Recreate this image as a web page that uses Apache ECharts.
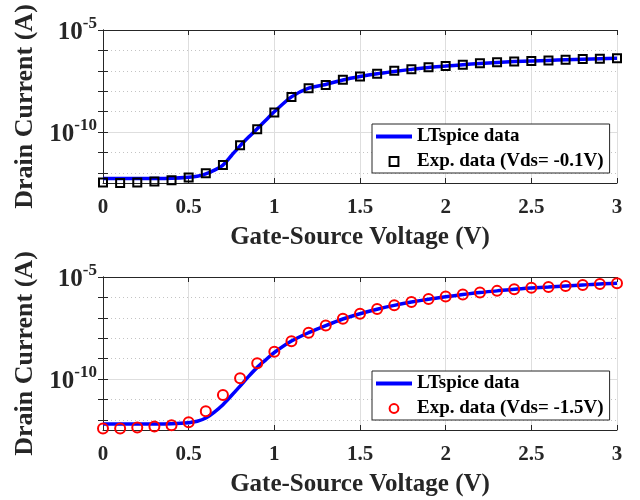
<!DOCTYPE html>
<html>
<head>
<meta charset="utf-8">
<title>Id-Vgs</title>
<script src="https://cdn.jsdelivr.net/npm/echarts@6/dist/echarts.min.js"></script>
<style>
    html, body { margin: 0; padding: 0; background: #fff; }
    #main { width: 640px; height: 500px; }
</style>
</head>
<body>
<div id="main"></div>
<script>
/*-----------------------------------------------------------------------------
 数据：电流都存成 log10(Id)，单位 A
-----------------------------------------------------------------------------*/
const vgs = [0, 0.1, 0.2, 0.3, 0.4, 0.5, 0.6, 0.7, 0.8, 0.9, 1.0, 1.1, 1.2, 1.3, 1.4, 1.5,
    1.6, 1.7, 1.8, 1.9, 2.0, 2.1, 2.2, 2.3, 2.4, 2.5, 2.6, 2.7, 2.8, 2.9, 3.0];
const expTop = [-12.47, -12.5, -12.47, -12.43, -12.37, -12.23, -12.02, -11.62, -10.65, -9.87, -9.05,
    -8.28, -7.85, -7.69, -7.44, -7.28, -7.14, -7.0, -6.93, -6.83, -6.76, -6.70, -6.63, -6.58, -6.55,
    -6.52, -6.49, -6.46, -6.42, -6.41, -6.38];
const expBottom = [-12.43, -12.43, -12.38, -12.33, -12.27, -12.12, -11.58, -10.78, -9.96, -9.23, -8.66,
    -8.15, -7.73, -7.38, -7.05, -6.80, -6.57, -6.39, -6.23, -6.08, -5.96, -5.86, -5.76, -5.68, -5.60,
    -5.53, -5.49, -5.44, -5.39, -5.34, -5.31];

const simX = [0, 0.1, 0.2, 0.3, 0.4, 0.5, 0.55, 0.6, 0.65, 0.7, 0.75, 0.8, 0.85, 0.9, 0.95, 1.0,
    1.1, 1.2, 1.3, 1.4, 1.5, 1.6, 1.7, 1.8, 1.9, 2.0, 2.1, 2.2, 2.3, 2.4, 2.5, 2.6, 2.7, 2.8, 2.9, 3.0];
const simTop = [-12.28, -12.28, -12.28, -12.28, -12.27, -12.22, -12.17, -12.05, -11.87, -11.62, -11.15,
    -10.68, -10.25, -9.84, -9.42, -9.01, -8.28, -7.85, -7.67, -7.45, -7.28, -7.14, -7.03, -6.93, -6.84,
    -6.77, -6.70, -6.64, -6.59, -6.55, -6.52, -6.49, -6.46, -6.43, -6.41, -6.39];
const simBottom = [-12.2, -12.2, -12.2, -12.2, -12.19, -12.14, -12.07, -11.91, -11.62, -11.26, -10.81,
    -10.35, -9.87, -9.43, -9.06, -8.70, -8.14, -7.73, -7.38, -7.06, -6.80, -6.58, -6.39, -6.23, -6.09,
    -5.97, -5.86, -5.76, -5.68, -5.60, -5.54, -5.49, -5.44, -5.39, -5.34, -5.31];

const yLabelTicks = [-10, -5];
const yDecadeTicks = [-12, -11, -10, -9, -8, -7, -6, -5];
const legendSim = 'LTspice data';
const legendTop = 'Exp. data (Vds= -0.1V)';
const legendBottom = 'Exp. data (Vds= -1.5V)';

/*-----------------------------------------------------------------------------
 样式
-----------------------------------------------------------------------------*/
const FONT = '"Liberation Serif", "Times New Roman", serif';
const AX = '#262626';
const grids = [
    { left: 103, top: 30, width: 514, height: 153 },
    { left: 103, top: 277, width: 514, height: 153 }
];

function pairs(xs, ys) {
    return xs.map((x, i) => [x, ys[i]]);
}

function xAxes(gi) {
    return [{
        gridIndex: gi, type: 'value', min: 0, max: 3, interval: 0.5,
        name: 'Gate-Source Voltage (V)', nameLocation: 'middle', nameGap: 42,
        nameTextStyle: { fontFamily: FONT, fontWeight: 'bold', fontSize: 25, color: AX },
        axisLine: { show: true, lineStyle: { color: AX, width: 1 } },
        axisTick: { show: true, inside: true, length: 5, lineStyle: { color: AX } },
        axisLabel: { margin: 14, fontFamily: FONT, fontWeight: 'bold', fontSize: 21, color: AX },
        splitLine: { show: true, lineStyle: { color: '#dedede', width: 1 } }
    }, {
        gridIndex: gi, type: 'value', position: 'top', min: 0, max: 3, interval: 0.5,
        axisLine: { show: true, lineStyle: { color: AX, width: 1 } },
        axisTick: { show: true, inside: true, length: 5, lineStyle: { color: AX } },
        axisLabel: { show: false },
        splitLine: { show: false }
    }];
}

function yAxes(gi) {
    return [{
        gridIndex: gi, type: 'value', min: -12.5, max: -5,
        name: 'Drain Current (A)', nameLocation: 'middle', nameGap: 54, nameRotate: 90,
        nameTextStyle: { fontFamily: FONT, fontWeight: 'bold', fontSize: 26, color: AX },
        axisLine: { show: true, lineStyle: { color: AX, width: 1 } },
        axisTick: { show: true, inside: true, length: 5, customValues: yDecadeTicks, lineStyle: { color: AX } },
        axisLabel: {
            margin: 6, customValues: yLabelTicks,
            formatter: v => '{b|10}{s|' + v + '}',
            rich: {
                b: { fontFamily: FONT, fontWeight: 'bold', fontSize: 25, color: AX, verticalAlign: 'bottom', lineHeight: 30 },
                s: { fontFamily: FONT, fontWeight: 'bold', fontSize: 17, color: AX, verticalAlign: 'top', lineHeight: 30 }
            }
        },
        splitLine: { show: true, lineStyle: { color: '#c4c4c4', width: 1, type: [1, 3] } }
    }, {
        gridIndex: gi, type: 'value', position: 'right', min: -12.5, max: -5,
        axisLine: { show: true, lineStyle: { color: AX, width: 1 } },
        axisTick: { show: true, inside: true, length: 5, customValues: yDecadeTicks, lineStyle: { color: AX } },
        axisLabel: { show: false },
        splitLine: { show: false }
    }, {
        // 10^-10 处的实线网格
        gridIndex: gi, type: 'value', position: 'left', min: -12.5, max: -5,
        axisLine: { show: false },
        axisTick: { show: false, customValues: [-10] },
        axisLabel: { show: false },
        splitLine: { show: true, lineStyle: { color: '#dedede', width: 1 } }
    }];
}

function legendOf(gi, expName) {
    return {
        orient: 'vertical',
        left: 372, top: gi === 0 ? 124 : 371,
        data: [{ name: legendSim, itemStyle: { opacity: 0 }, lineStyle: { width: 4 } }, expName],
        backgroundColor: '#fff',
        borderColor: AX, borderWidth: 1, borderRadius: 0,
        padding: [2, 6, 1, 2],
        itemGap: 4, itemWidth: 36, itemHeight: 11,
        selectedMode: false,
        textStyle: { fontFamily: FONT, fontWeight: 'bold', fontSize: 19, color: '#000', lineHeight: 21 }
    };
}

function simSeries(gi, ys) {
    return {
        name: legendSim, type: 'line', xAxisIndex: gi * 2, yAxisIndex: gi * 3,
        data: pairs(simX, ys), smooth: 0.3, symbol: 'none', z: 2,
        lineStyle: { color: '#0000ff', width: 3.5 },
        itemStyle: { color: '#0000ff', opacity: 0 }
    };
}

function expSeries(gi, name, ys, sym, size, col) {
    return {
        name: name, type: 'line', xAxisIndex: gi * 2, yAxisIndex: gi * 3,
        data: pairs(vgs, ys), symbol: sym, symbolSize: size, showAllSymbol: true, z: 3,
        lineStyle: { width: 0, opacity: 0 },
        itemStyle: { color: 'rgba(255,255,255,0)', borderColor: col, borderWidth: 2 }
    };
}

let myChart = echarts.init(document.getElementById('main'), null, { renderer: 'canvas' });
let option = {
    animation: false,
    backgroundColor: '#fff',
    grid: grids,
    legend: [legendOf(0, legendTop), legendOf(1, legendBottom)],
    xAxis: xAxes(0).concat(xAxes(1)),
    yAxis: yAxes(0).concat(yAxes(1)),
    series: [
        simSeries(0, simTop),
        expSeries(0, legendTop, expTop, 'rect', 8, '#000'),
        simSeries(1, simBottom),
        expSeries(1, legendBottom, expBottom, 'circle', 10, '#ff0000')
    ]
};
myChart.setOption(option);
</script>
</body>
</html>
